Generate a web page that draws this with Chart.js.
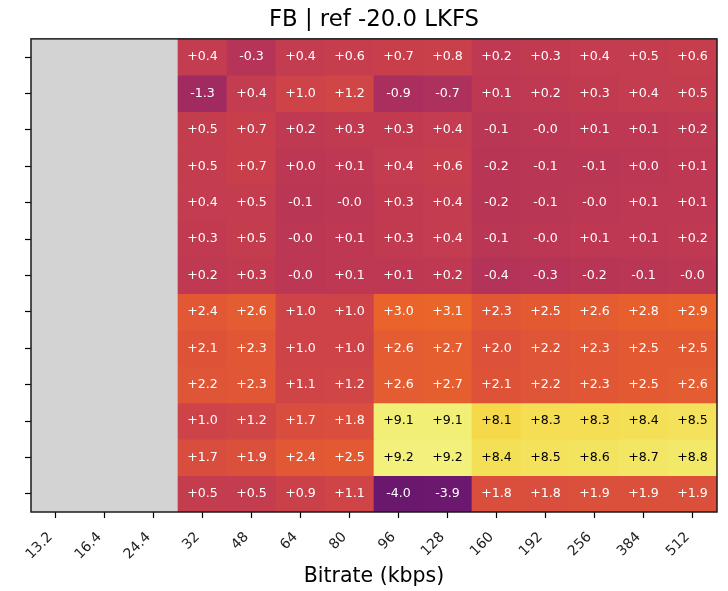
<!DOCTYPE html>
<html><head><meta charset="utf-8">
<script src="https://cdn.jsdelivr.net/npm/chart.js@4/dist/chart.umd.min.js"></script>
<style>html,body{margin:0;padding:0;background:#fff}</style>
</head><body>
<canvas id="c" width="728" height="591"></canvas>
<script>
const chartTitle = 'FB | ref -20.0 LKFS';
const xAxisTitle = 'Bitrate (kbps)';
const bitrates = ['13.2','16.4','24.4','32','48','64','80','96','128','160','192','256','384','512'];
// one array per heatmap row (top to bottom); null = no data (grey)
const row01 = [null,null,null, 0.4,-0.3, 0.4, 0.6, 0.7, 0.8, 0.2, 0.3, 0.4, 0.5, 0.6];
const row02 = [null,null,null,-1.3, 0.4, 1.0, 1.2,-0.9,-0.7, 0.1, 0.2, 0.3, 0.4, 0.5];
const row03 = [null,null,null, 0.5, 0.7, 0.2, 0.3, 0.3, 0.4,-0.1,-0.0, 0.1, 0.1, 0.2];
const row04 = [null,null,null, 0.5, 0.7, 0.0, 0.1, 0.4, 0.6,-0.2,-0.1,-0.1, 0.0, 0.1];
const row05 = [null,null,null, 0.4, 0.5,-0.1,-0.0, 0.3, 0.4,-0.2,-0.1,-0.0, 0.1, 0.1];
const row06 = [null,null,null, 0.3, 0.5,-0.0, 0.1, 0.3, 0.4,-0.1,-0.0, 0.1, 0.1, 0.2];
const row07 = [null,null,null, 0.2, 0.3,-0.0, 0.1, 0.1, 0.2,-0.4,-0.3,-0.2,-0.1,-0.0];
const row08 = [null,null,null, 2.4, 2.6, 1.0, 1.0, 3.0, 3.1, 2.3, 2.5, 2.6, 2.8, 2.9];
const row09 = [null,null,null, 2.1, 2.3, 1.0, 1.0, 2.6, 2.7, 2.0, 2.2, 2.3, 2.5, 2.5];
const row10 = [null,null,null, 2.2, 2.3, 1.1, 1.2, 2.6, 2.7, 2.1, 2.2, 2.3, 2.5, 2.6];
const row11 = [null,null,null, 1.0, 1.2, 1.7, 1.8, 9.1, 9.1, 8.1, 8.3, 8.3, 8.4, 8.5];
const row12 = [null,null,null, 1.7, 1.9, 2.4, 2.5, 9.2, 9.2, 8.4, 8.5, 8.6, 8.7, 8.8];
const row13 = [null,null,null, 0.5, 0.5, 0.9, 1.1,-4.0,-3.9, 1.8, 1.8, 1.9, 1.9, 1.9];
const rows = [row01,row02,row03,row04,row05,row06,row07,row08,row09,row10,row11,row12,row13];
const vmin = -10, vmax = 10;

// inferno colormap stops
const infernoStops = [
  [0.000,'#000004'],[0.100,'#160b39'],[0.111,'#1b0c41'],[0.200,'#420a68'],[0.222,'#4a0c6b'],
  [0.300,'#6a176e'],[0.333,'#781c6d'],[0.400,'#932667'],[0.444,'#a52c60'],[0.500,'#bc3754'],
  [0.556,'#cf4446'],[0.600,'#dd513a'],[0.667,'#ed6925'],[0.700,'#f37819'],[0.778,'#fb9b06'],
  [0.800,'#fca50a'],[0.889,'#f7d13d'],[0.900,'#f6d746'],[0.950,'#f1ed71'],[1.000,'#fcffa4']
];
function hex2rgb(h){return [parseInt(h.slice(1,3),16),parseInt(h.slice(3,5),16),parseInt(h.slice(5,7),16)];}
function inferno(t){
  t=Math.max(0,Math.min(1,t));
  for(let k=1;k<infernoStops.length;k++){
    const [t1,c1]=infernoStops[k];
    if(t<=t1){
      const [t0,c0]=infernoStops[k-1];
      const f=(t-t0)/(t1-t0), a=hex2rgb(c0), b=hex2rgb(c1);
      return `rgb(${Math.round(a[0]+(b[0]-a[0])*f)},${Math.round(a[1]+(b[1]-a[1])*f)},${Math.round(a[2]+(b[2]-a[2])*f)})`;
    }
  }
  return infernoStops[infernoStops.length-1][1];
}
function fmt(v){ const neg = v<0 || Object.is(v,-0); return (neg?'-':'+')+Math.abs(v).toFixed(1); }

const datasets = rows.map((row,i)=>({
  data: bitrates.map(()=>[i,i+1]),
  backgroundColor: row.map(v=> v===null ? '#d3d3d3' : inferno((v-vmin)/(vmax-vmin))),
  borderWidth: 0,
  barPercentage: 1,
  categoryPercentage: 1,
  grouped: false
}));

const cellText = {
  id:'cellText',
  afterDatasetsDraw(chart){
    const {ctx, scales:{x,y}, chartArea:a} = chart;
    ctx.save();
    ctx.font = '12.6px "DejaVu Sans"';
    ctx.textAlign='center'; ctx.textBaseline='middle';
    rows.forEach((row,i)=>row.forEach((v,j)=>{
      if(v===null) return;
      ctx.fillStyle = v>5 ? '#000' : '#fff';
      ctx.fillText(fmt(v), x.getPixelForValue(j), y.getPixelForValue(i+0.5));
    }));
    ctx.strokeStyle='#1a1a1a'; ctx.lineWidth=1.5;
    ctx.strokeRect(a.left, a.top, a.right-a.left, a.bottom-a.top);
    ctx.restore();
  }
};

new Chart(document.getElementById('c'), {
  type:'bar',
  data:{labels: bitrates, datasets},
  options:{
    responsive:false, animation:false, devicePixelRatio:1,
    layout:{padding:{left:31,right:11,top:0,bottom:0}},
    plugins:{
      legend:{display:false}, tooltip:{enabled:false},
      title:{display:true, text:chartTitle, color:'#000', font:{family:'DejaVu Sans', size:22.8, weight:'normal'}, padding:{top:6,bottom:5.5}}
    },
    scales:{
      x:{
        type:'category', offset:true,
        grid:{offset:false, drawOnChartArea:false, tickLength:6, color:'#000', tickWidth:1.2},
        border:{display:false},
        ticks:{minRotation:45, maxRotation:45, color:'#222', font:{family:'DejaVu Sans', size:14}, padding:11, labelOffset:-5, autoSkip:false},
        title:{display:true, text:xAxisTitle, color:'#000', font:{family:'DejaVu Sans', size:20.5}, padding:{top:4,bottom:2}},
        afterFit(s){ s.height = 79; }
      },
      y:{
        type:'linear', min:0, max:13, reverse:true,
        afterBuildTicks(s){ s.ticks = rows.map((_,i)=>({value:i+0.5})); },
        grid:{drawOnChartArea:false, tickLength:6, color:'#000', tickWidth:1.2},
        border:{display:false},
        ticks:{callback:()=>'' , padding:0},
        afterFit(s){ s.width = 0; }
      }
    }
  },
  plugins:[cellText]
});
</script>
</body></html>
